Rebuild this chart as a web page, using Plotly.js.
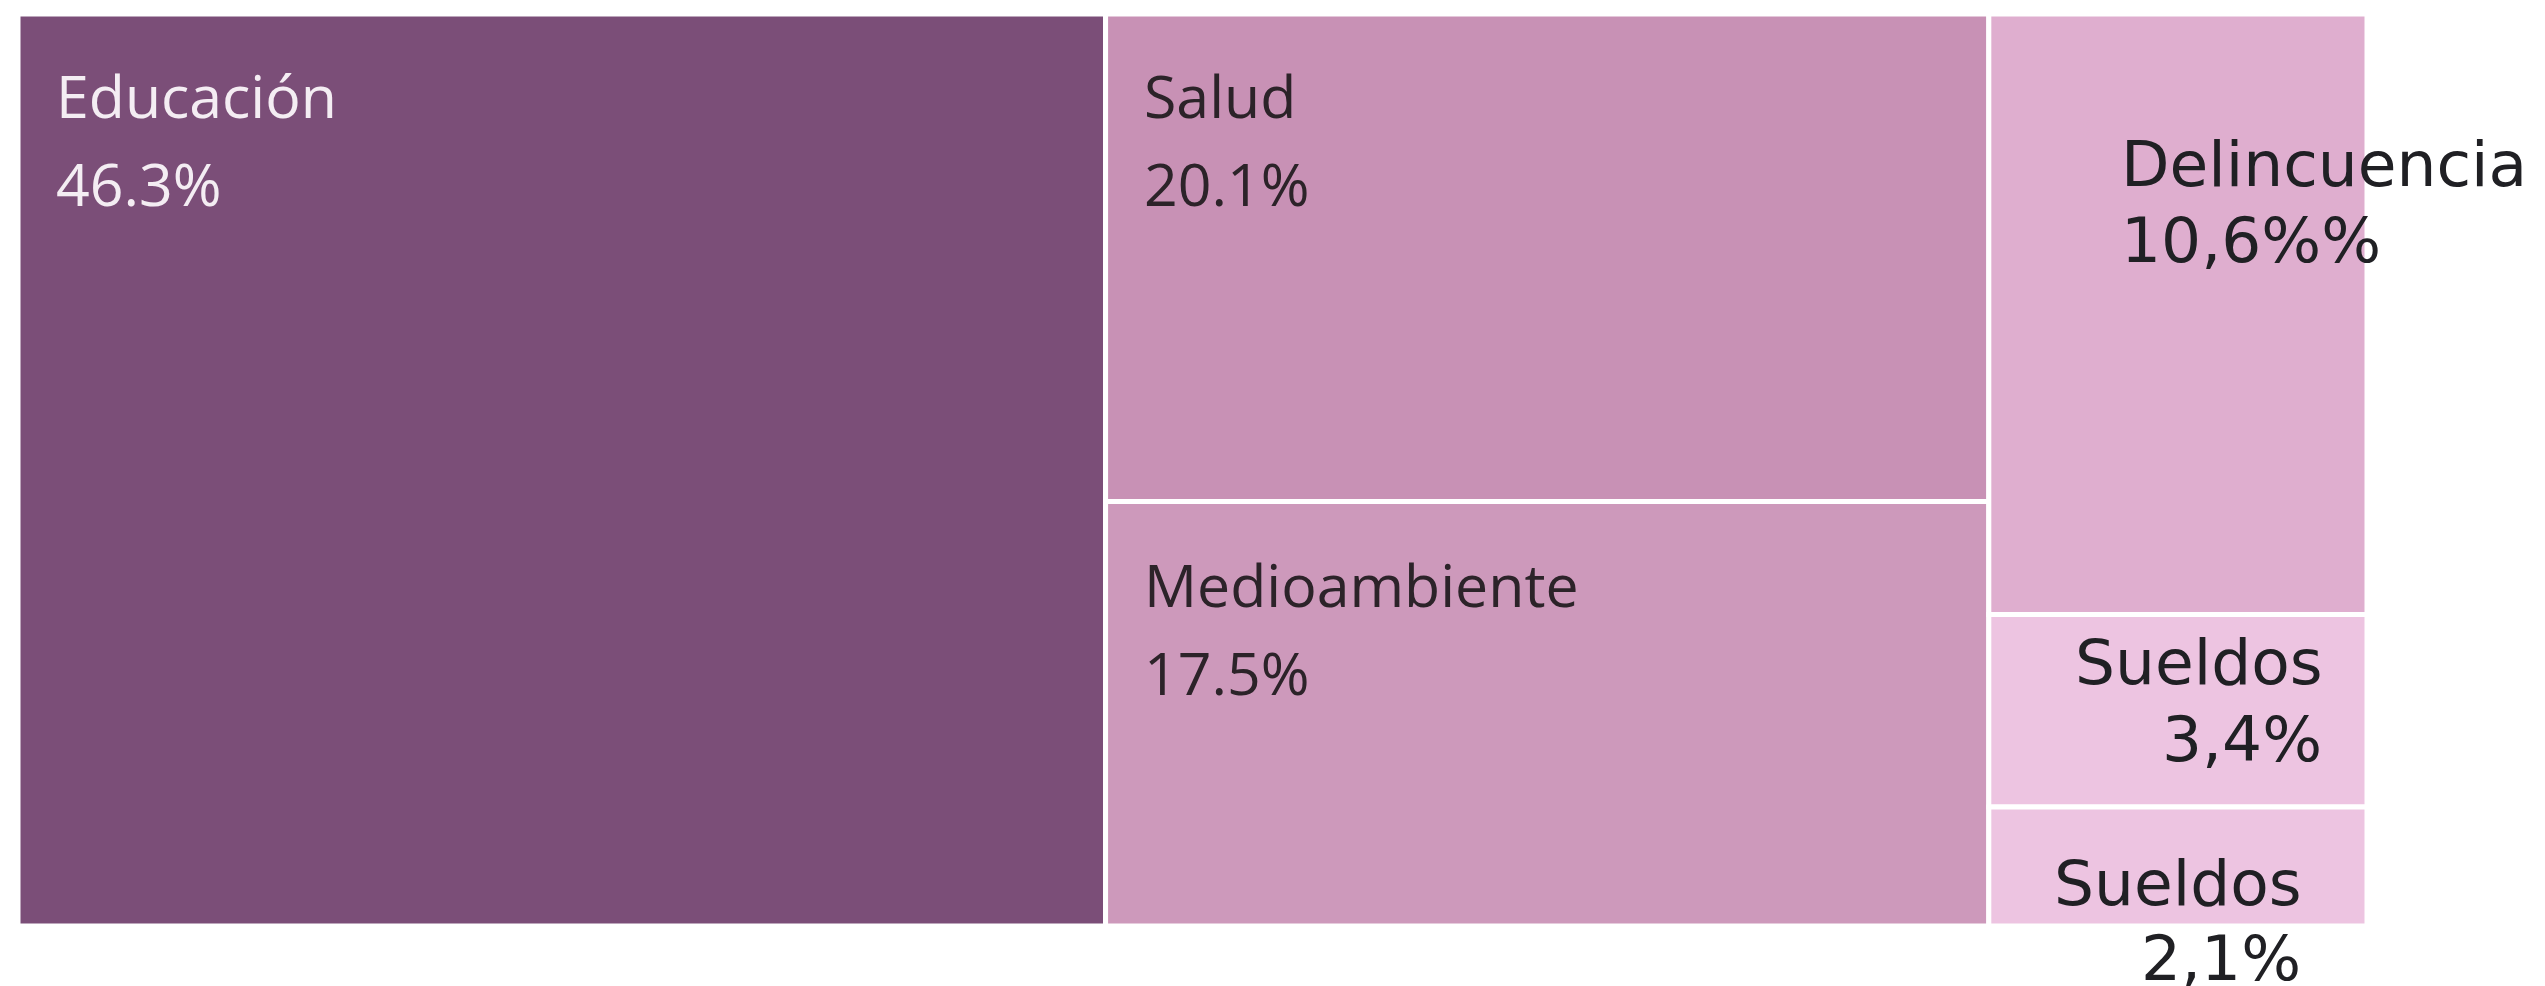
<!DOCTYPE html>
<html>
<head>
<meta charset="utf-8">
<script src="https://cdn.plot.ly/plotly-3.0.1.min.js"></script>
<style>
html,body{margin:0;padding:0;background:#ffffff;}
#chart{width:2545px;height:986px;}
</style>
</head>
<body>
<div id="chart"></div>
<script>
// ---- data ----
const ids     = ["edu", "grpA", "grpB", "salud", "medio", "delin", "suel1", "suel2"];
const labels  = ["Educación", "Grupo A", "Grupo B", "Salud", "Medioambiente", "Delincuencia", "Sueldos", "Sueldos"];
const parents = ["", "", "", "grpA", "grpA", "grpB", "grpB", "grpB"];
const values  = [46.3, 0, 0, 20.1, 17.5, 10.6, 3.4, 2.1];
const valueText = ["46.3%", "", "", "20.1%", "17.5%", "10,6%%", "3,4%", "2,1%"];
const tileColors = ["#7b4e78", "rgba(0,0,0,0)", "rgba(0,0,0,0)", "#c891b5", "#cd99bb", "#dfaecf", "#edc4e1", "#edc4e1"];

// ---- geometry of the plot area ----
const WIDTH = 2545, HEIGHT = 986;
const M = {l: 18, r: 178, t: 14, b: 60};
const PW = WIDTH - M.l - M.r, PH = HEIGHT - M.t - M.b;
const px2x = p => (p - M.l) / PW;
const px2y = p => 1 - (p - M.t) / PH;

// fractions derived from the data (column / row starts of the treemap)
const total = values.reduce((a, b) => a + b, 0);
const idx = id => ids.indexOf(id);
const colEdu = 0;
const colA = values[idx("edu")] / total;
const grpA = values[idx("salud")] + values[idx("medio")];
const rowMedio = 1 - values[idx("salud")] / grpA;

// ---- Tableau-style labels inside the tiles ----
const tabFont = {family: "Open Sans, Noto Sans, sans-serif", size: 59};
function tabLabel(text, xf, yf, yshift, color) {
  return {xref: "paper", yref: "paper", x: xf, y: yf, xanchor: "left", yanchor: "top",
          xshift: 36, yshift: yshift, text: text, showarrow: false,
          font: Object.assign({}, tabFont, {color: color})};
}
const lightTxt = "#f4edf3", darkTxt = "#2c2329";
const anns = [
  tabLabel(labels[idx("edu")], colEdu, 1, -39, lightTxt),
  tabLabel(valueText[idx("edu")], colEdu, 1, -127, lightTxt),
  tabLabel(labels[idx("salud")], colA, 1, -39, darkTxt),
  tabLabel(valueText[idx("salud")], colA, 1, -127, darkTxt),
  tabLabel(labels[idx("medio")], colA, rowMedio, -40, darkTxt),
  tabLabel(valueText[idx("medio")], colA, rowMedio, -128, darkTxt)
];

// ---- overlaid text boxes (different typeface) ----
const ovFont = {family: "DejaVu Sans, sans-serif", size: 63, color: "#202024"};
function ovLabel(text, pxX, pxY, anchor) {
  return {xref: "paper", yref: "paper", x: px2x(pxX), y: px2y(pxY), xanchor: anchor, yanchor: "top",
          text: text, showarrow: false, align: anchor, font: ovFont};
}
anns.push(
  ovLabel(labels[idx("delin")], 2119, 126, "left"),
  ovLabel(valueText[idx("delin")], 2119, 202, "left"),
  ovLabel(labels[idx("suel1")], 2325, 624, "right"),
  ovLabel(valueText[idx("suel1")], 2324, 701, "right"),
  ovLabel(labels[idx("suel2")], 2304, 845, "right"),
  ovLabel(valueText[idx("suel2")], 2303, 920, "right")
);

const trace = {
  type: "treemap",
  ids: ids, labels: labels, parents: parents, values: values,
  branchvalues: "remainder",
  sort: false,
  tiling: {packing: "slice-dice", pad: 0},
  marker: {colors: tileColors, line: {color: "#ffffff", width: 5},
           pad: {t: 0, l: 0, r: 0, b: 0}, depthfade: false},
  textinfo: "none",
  hoverinfo: "skip",
  pathbar: {visible: false},
  root: {color: "rgba(0,0,0,0)"}
};

const layout = {
  width: WIDTH, height: HEIGHT,
  margin: M,
  paper_bgcolor: "#ffffff",
  showlegend: false,
  annotations: anns
};

Plotly.newPlot("chart", [trace], layout, {displayModeBar: false, staticPlot: true});
</script>
</body>
</html>
